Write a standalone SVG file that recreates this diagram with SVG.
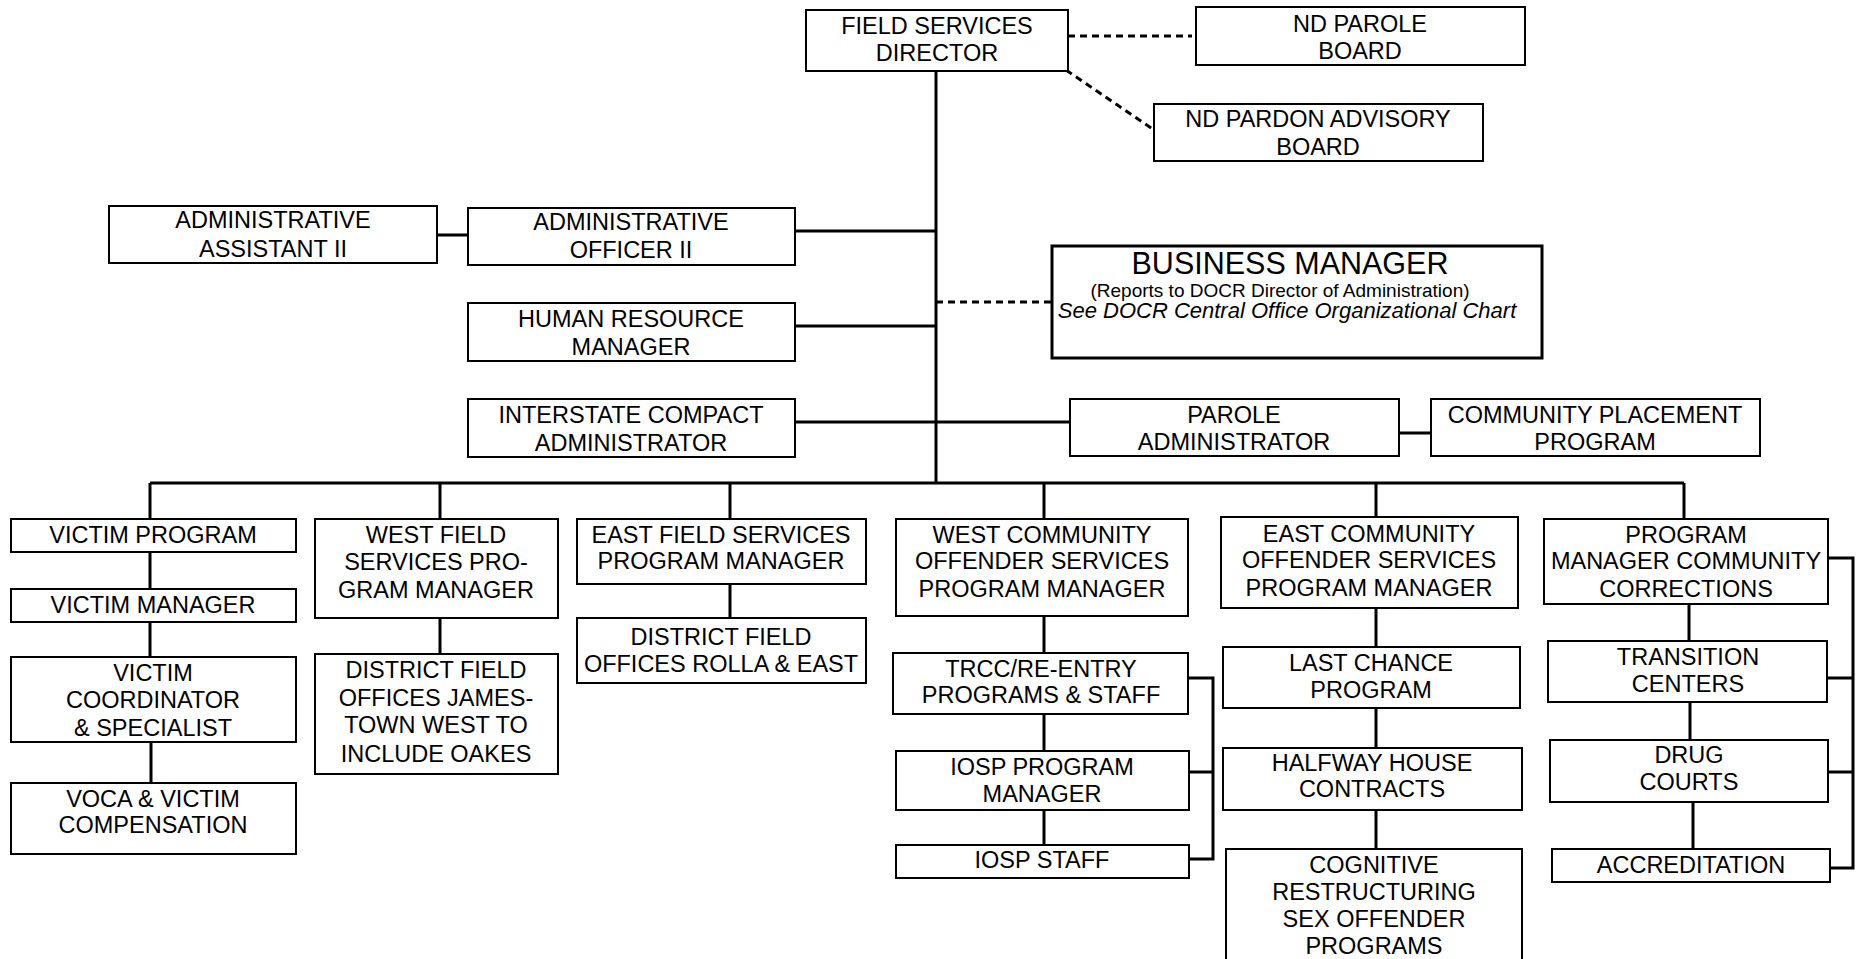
<svg xmlns="http://www.w3.org/2000/svg" width="1858" height="959" viewBox="0 0 1858 959">
<style>
.box{fill:#fff;stroke:#000;stroke-width:2}
.bm{fill:#fff;stroke:#000;stroke-width:3}
.t{font-family:"Liberation Sans",Arial,sans-serif;font-size:23.5px;text-anchor:middle;fill:#000}
.bt{font-family:"Liberation Sans",Arial,sans-serif;text-anchor:middle;fill:#000}
.ln{stroke:#000;stroke-width:3;fill:none}
.dash{stroke:#000;stroke-width:3;fill:none;stroke-dasharray:7 5}
</style>
<rect width="1858" height="959" fill="#fff"/>
<g id="connectors">
<path class="ln" d="M936 71V483M150 483H1684"/>
<path class="ln" d="M795 231H936M437 235H468M795 326H936M795 422H1070M1399 433H1431"/>
<path class="dash" d="M1068 36H1192M1066 70L1154 130M936 302H1052"/>
<path class="ln" d="M150 483V519M440 483V519M730 483V519M1044 483V519M1376 483V517M1684 483V519"/>
<path class="ln" d="M150 552V589M150 622V657M151 742V783"/>
<path class="ln" d="M440 618V654M730 584V618"/>
<path class="ln" d="M1044 616V653M1044 714V751M1044 810V845"/>
<path class="ln" d="M1188 678H1213V859H1189M1189 772H1213"/>
<path class="ln" d="M1376 608V647M1376 708V748M1376 810V849"/>
<path class="ln" d="M1689 604V641M1690 702V740M1693 802V849"/>
<path class="ln" d="M1828 558H1853V868H1830M1827 678H1853M1828 772H1853"/>
</g>
<g id="field-services-director"><rect class="box" x="806" y="10" width="262" height="61"/><text class="t" x="937" y="34">FIELD SERVICES</text><text class="t" x="937" y="61">DIRECTOR</text></g>
<g id="nd-parole-board"><rect class="box" x="1196" y="7" width="329" height="58"/><text class="t" x="1360" y="32">ND PAROLE</text><text class="t" x="1360" y="59">BOARD</text></g>
<g id="nd-pardon-advisory-board"><rect class="box" x="1154" y="104" width="329" height="57"/><text class="t" x="1318" y="127">ND PARDON ADVISORY</text><text class="t" x="1318" y="155">BOARD</text></g>
<g id="administrative-assistant-ii"><rect class="box" x="109" y="206" width="328" height="57"/><text class="t" x="273" y="228">ADMINISTRATIVE</text><text class="t" x="273" y="257">ASSISTANT II</text></g>
<g id="administrative-officer-ii"><rect class="box" x="468" y="208" width="327" height="57"/><text class="t" x="631" y="230">ADMINISTRATIVE</text><text class="t" x="631" y="258">OFFICER II</text></g>
<g id="business-manager"><rect class="bm" x="1052" y="246" width="490" height="112"/><text class="bt" x="1290" y="274" font-size="30.5">BUSINESS MANAGER</text><text class="bt" x="1280" y="297" font-size="19">(Reports to DOCR Director of Administration)</text><text class="bt" x="1287" y="318" font-size="22" font-style="italic">See DOCR Central Office Organizational Chart</text></g>
<g id="human-resource-manager"><rect class="box" x="468" y="303" width="327" height="58"/><text class="t" x="631" y="327">HUMAN RESOURCE</text><text class="t" x="631" y="355">MANAGER</text></g>
<g id="interstate-compact-administrator"><rect class="box" x="468" y="399" width="327" height="58"/><text class="t" x="631" y="423">INTERSTATE COMPACT</text><text class="t" x="631" y="451">ADMINISTRATOR</text></g>
<g id="parole-administrator"><rect class="box" x="1070" y="399" width="329" height="57"/><text class="t" x="1234" y="423">PAROLE</text><text class="t" x="1234" y="450">ADMINISTRATOR</text></g>
<g id="community-placement-program"><rect class="box" x="1431" y="399" width="329" height="57"/><text class="t" x="1595" y="423">COMMUNITY PLACEMENT</text><text class="t" x="1595" y="450">PROGRAM</text></g>
<g id="victim-program"><rect class="box" x="11" y="519" width="285" height="33"/><text class="t" x="153" y="543">VICTIM PROGRAM</text></g>
<g id="victim-manager"><rect class="box" x="11" y="589" width="285" height="33"/><text class="t" x="153" y="613">VICTIM MANAGER</text></g>
<g id="victim-coordinator"><rect class="box" x="11" y="657" width="285" height="85"/><text class="t" x="153" y="681">VICTIM</text><text class="t" x="153" y="708">COORDINATOR</text><text class="t" x="153" y="736">&amp; SPECIALIST</text></g>
<g id="voca-victim-compensation"><rect class="box" x="11" y="783" width="285" height="71"/><text class="t" x="153" y="807">VOCA &amp; VICTIM</text><text class="t" x="153" y="833">COMPENSATION</text></g>
<g id="west-field-services"><rect class="box" x="315" y="519" width="243" height="99"/><text class="t" x="436" y="543">WEST FIELD</text><text class="t" x="436" y="570">SERVICES PRO-</text><text class="t" x="436" y="598">GRAM MANAGER</text></g>
<g id="district-jamestown"><rect class="box" x="315" y="654" width="243" height="120"/><text class="t" x="436" y="678">DISTRICT FIELD</text><text class="t" x="436" y="706">OFFICES JAMES-</text><text class="t" x="436" y="733">TOWN WEST TO</text><text class="t" x="436" y="762">INCLUDE OAKES</text></g>
<g id="east-field-services"><rect class="box" x="577" y="519" width="289" height="65"/><text class="t" x="721" y="543">EAST FIELD SERVICES</text><text class="t" x="721" y="569">PROGRAM MANAGER</text></g>
<g id="district-rolla-east"><rect class="box" x="577" y="618" width="289" height="65"/><text class="t" x="721" y="645">DISTRICT FIELD</text><text class="t" x="721" y="672">OFFICES ROLLA &amp; EAST</text></g>
<g id="west-community-offender"><rect class="box" x="896" y="519" width="292" height="97"/><text class="t" x="1042" y="543">WEST COMMUNITY</text><text class="t" x="1042" y="569">OFFENDER SERVICES</text><text class="t" x="1042" y="597">PROGRAM MANAGER</text></g>
<g id="trcc-reentry"><rect class="box" x="893" y="653" width="295" height="61"/><text class="t" x="1041" y="677">TRCC/RE-ENTRY</text><text class="t" x="1041" y="703">PROGRAMS &amp; STAFF</text></g>
<g id="iosp-program-manager"><rect class="box" x="896" y="751" width="293" height="59"/><text class="t" x="1042" y="775">IOSP PROGRAM</text><text class="t" x="1042" y="802">MANAGER</text></g>
<g id="iosp-staff"><rect class="box" x="896" y="845" width="293" height="33"/><text class="t" x="1042" y="868">IOSP STAFF</text></g>
<g id="east-community-offender"><rect class="box" x="1221" y="517" width="297" height="91"/><text class="t" x="1369" y="542">EAST COMMUNITY</text><text class="t" x="1369" y="568">OFFENDER SERVICES</text><text class="t" x="1369" y="596">PROGRAM MANAGER</text></g>
<g id="last-chance-program"><rect class="box" x="1223" y="647" width="297" height="61"/><text class="t" x="1371" y="671">LAST CHANCE</text><text class="t" x="1371" y="698">PROGRAM</text></g>
<g id="halfway-house"><rect class="box" x="1223" y="748" width="299" height="62"/><text class="t" x="1372" y="771">HALFWAY HOUSE</text><text class="t" x="1372" y="797">CONTRACTS</text></g>
<g id="cognitive-restructuring"><rect class="box" x="1226" y="849" width="296" height="130"/><text class="t" x="1374" y="873">COGNITIVE</text><text class="t" x="1374" y="900">RESTRUCTURING</text><text class="t" x="1374" y="927">SEX OFFENDER</text><text class="t" x="1374" y="954">PROGRAMS</text></g>
<g id="program-manager-community-corrections"><rect class="box" x="1544" y="519" width="284" height="85"/><text class="t" x="1686" y="543">PROGRAM</text><text class="t" x="1686" y="569">MANAGER COMMUNITY</text><text class="t" x="1686" y="597">CORRECTIONS</text></g>
<g id="transition-centers"><rect class="box" x="1548" y="641" width="279" height="61"/><text class="t" x="1688" y="665">TRANSITION</text><text class="t" x="1688" y="692">CENTERS</text></g>
<g id="drug-courts"><rect class="box" x="1550" y="740" width="278" height="62"/><text class="t" x="1689" y="763">DRUG</text><text class="t" x="1689" y="790">COURTS</text></g>
<g id="accreditation"><rect class="box" x="1552" y="849" width="278" height="33"/><text class="t" x="1691" y="873">ACCREDITATION</text></g>
</svg>
